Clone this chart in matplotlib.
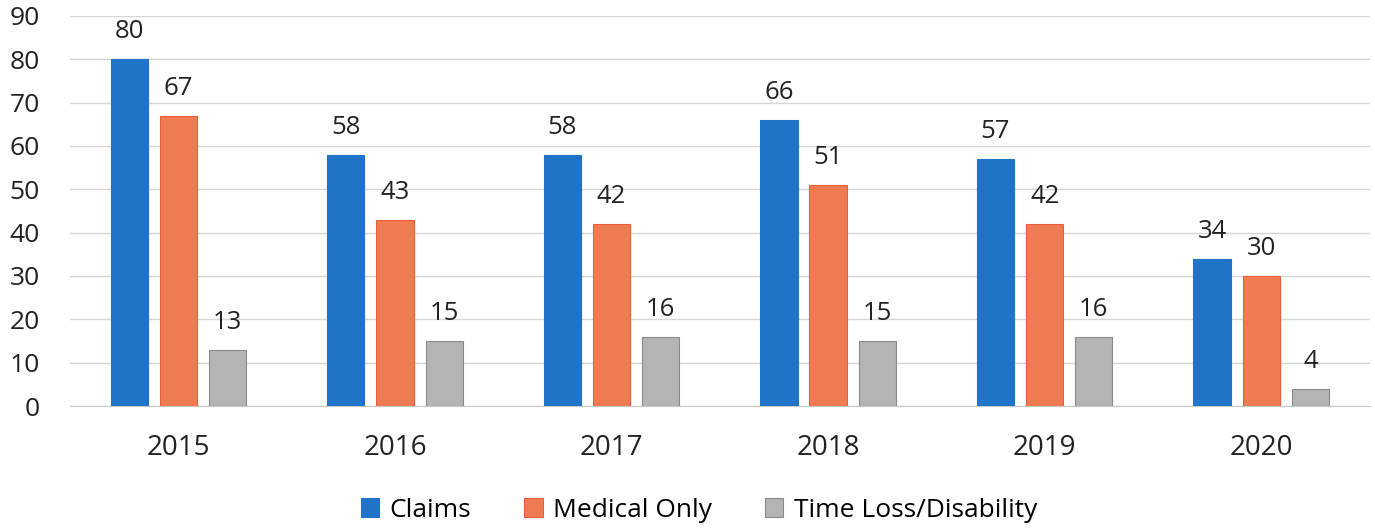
import matplotlib.pyplot as plt
import numpy as np

years = ['2015', '2016', '2017', '2018', '2019', '2020']
claims = [80, 58, 58, 66, 57, 34]
medical = [67, 43, 42, 51, 42, 30]
timeloss = [13, 15, 16, 15, 16, 4]

series = [('Claims', claims, '#1f74c8', '#1f74c8'),
          ('Medical Only', medical, '#ee7b52', '#e8603a'),
          ('Time Loss/Disability', timeloss, '#b4b4b4', '#8a8a8a')]

plt.rcParams['font.family'] = ['Open Sans', 'DejaVu Sans']

fig = plt.figure(figsize=(13.75, 5.29), dpi=100)
ax = fig.add_axes([0.051, 0.2325, 0.945, 0.7375])

x = np.arange(len(years))
w = 0.172
step = 0.227
for i, (name, vals, col, edge) in enumerate(series):
    pos = x + (i - 1) * step
    ax.bar(pos, vals, width=w, color=col, edgecolor=edge, linewidth=0.8, label=name, zorder=3)
    for p, v in zip(pos, vals):
        ax.annotate(str(v), (p, v), xytext=(0, 15), textcoords='offset points',
                    ha='center', va='baseline', fontsize=18.5, color='#222222')

ax.set_xlim(-0.5, len(years) - 0.5)
ax.set_ylim(0, 90)
ax.set_yticks(range(0, 91, 10))
ax.set_xticks(x)
ax.set_xticklabels(years)
ax.tick_params(axis='both', length=0, colors='#222222')
ax.tick_params(axis='x', pad=20, labelsize=20)
ax.tick_params(axis='y', pad=22, labelsize=19)
ax.grid(axis='y', color='#d6d6d6', linewidth=1, zorder=0)
for s in ['top', 'right', 'left']:
    ax.spines[s].set_visible(False)
ax.spines['bottom'].set_color('#c8c8c8')

ax.legend(loc='center', bbox_to_anchor=(0.484, -0.267), ncol=3, frameon=False,
          fontsize=19, handlelength=0.7, handleheight=0.7, columnspacing=2.0, handletextpad=0.4)

plt.savefig('out.png', dpi=100)
